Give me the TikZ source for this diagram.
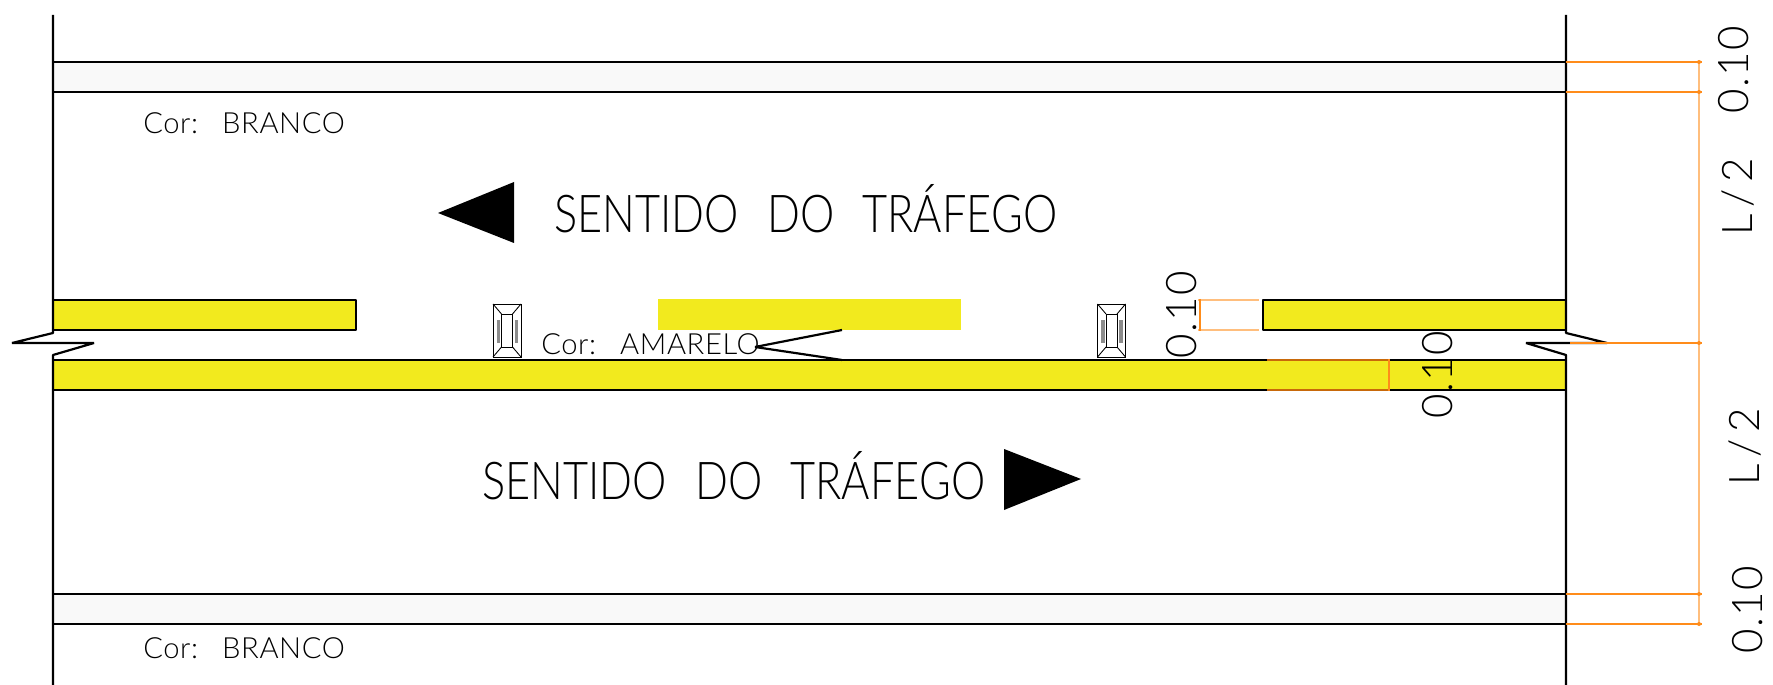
\documentclass[tikz,border=0pt]{standalone}
\usepackage{fontspec}
\newfontfamily\tagfont{Lato}[UprightFont=* Light,WordSpace=2.5,LetterSpace=2]
\newfontfamily\bigfont{Lato}[UprightFont=* Light,FakeStretch=0.83,WordSpace=2.4]
\newfontfamily\cotafont{Lato}[UprightFont=* Light,LetterSpace=3]
\newfontfamily\razaofont{Lato}[UprightFont=* Light,LetterSpace=16]
\usetikzlibrary{positioning}
\definecolor{faixa}{HTML}{F2EA1E}
\definecolor{bordo}{HTML}{F9F9F9}
\definecolor{cota}{HTML}{FF8C1A}
\definecolor{cotaclara}{HTML}{FFBE7D}
\definecolor{cotaescura}{HTML}{C8690A}
\tikzset{
  line/.style={black, line width=1.25pt, line join=bevel},
  thinline/.style={black, line width=0.5pt},
  ext/.style={cota, line width=0.8pt},
  dim/.style={cotaclara, line width=0.8pt},
  tag/.style={inner sep=0pt, font=\tagfont\fontsize{16.6}{17}\selectfont, anchor=base west},
  big/.style={inner sep=0pt, font=\bigfont\fontsize{29.7}{30}\selectfont, anchor=base west},
  measure/.style={inner sep=0pt, font=\cotafont\fontsize{24}{24}\selectfont, rotate=90, anchor=base},
  ratio/.style={measure, font=\razaofont\fontsize{24}{24}\selectfont},
  tacha/.pic={
    \draw[thinline] (-14,-26.5) rectangle (14,26.5);
    \draw[thinline] (-5.5,-16.5) rectangle (5.5,16.5);
    \draw[thinline] (-14,-26.5) -- (-5.5,-16.5);
    \draw[thinline] (14,-26.5) -- (5.5,-16.5);
    \draw[thinline] (-14,26.5) -- (-5.5,16.5);
    \draw[thinline] (14,26.5) -- (5.5,16.5);
    \filldraw[black!45, line width=0.4pt] (-10,-10.5) rectangle (-7.5,11.5);
    \filldraw[black!45, line width=0.4pt] (8,-10.5) rectangle (10.5,11.5);
  }
}
\begin{document}
\begin{tikzpicture}[x=0.02cm,y=-0.02cm]
\useasboundingbox (0,0) rectangle (1773,685);

\coordinate (LT) at (53,15);
\coordinate (RT) at (1566,15);
\coordinate (LB) at (53,685);
\coordinate (RB) at (1566,685);
\coordinate (LBa) at (53,333);
\coordinate (LBb) at (12,343);
\coordinate (LBc) at (94,343);
\coordinate (LBd) at (53,355);
\coordinate (RBa) at (1566,333);
\coordinate (RBb) at (1607,343);
\coordinate (RBc) at (1526,343);
\coordinate (RBd) at (1566,355);

% faixas
\filldraw[line, fill=bordo] (53,62) rectangle (1566,92);
\filldraw[line, fill=bordo] (53,594) rectangle (1566,624);
\filldraw[line, fill=faixa] (53,300) rectangle (356,330);
\filldraw[line, fill=faixa] (1263,300) rectangle (1566,330);
\filldraw[line, fill=faixa] (53,360) rectangle (1566,390);
\fill[faixa] (658,299) rectangle (961,330);

% bordas
\draw[line] (LT) -- (LBa) -- (LBb) -- (LBc) -- (LBd) -- (LB);
\draw[line] (RT) -- (RBa) -- (RBb) -- (RBc) -- (RBd) -- (RB);

% tachas
\pic at (507,330.5) {tacha};
\pic at (1111.5,330.5) {tacha};

% textos
\node[tag] (corA) at (143,134) {Cor: BRANCO};
\node[tag] (corB) at (143,658) {Cor: BRANCO};
\node[tag] (corC) at (541,355) {Cor: AMARELO};
\node[big] (sentA) at (554,233) {SENTIDO DO TRÁFEGO};
\node[big] (sentB) at (482,499) {SENTIDO DO TRÁFEGO};

\coordinate (AmA) at (842,330);
\coordinate (AmB) at (842,360);
\draw[line] (AmA) -- (755,347) -- (AmB);

% setas
\fill[black] (438,213) -- (514,182) -- (514,243) -- cycle;
\fill[black] (1004,449) -- (1004,510) -- (1081,479) -- cycle;

% cotas
\draw[dim] (1699,62) -- (1699,624);
\draw[ext] (1566,62) -- (1702,62);
\draw[ext] (1566,92) -- (1702,92);
\draw[ext] (1570,343) -- (1702,343);
\draw[ext] (1566,594) -- (1702,594);
\draw[ext] (1566,624) -- (1702,624);
\draw[dim] (1198,300) -- (1259,300);
\draw[dim] (1198,330) -- (1259,330);
\draw[ext] (1200,299) -- (1200,331);
\draw[cotaescura, line width=0.8pt] (1267,360) -- (1390,360);
\draw[cotaescura, line width=0.8pt] (1267,390) -- (1390,390);
\draw[ext] (1389,359) -- (1389,391);
\foreach \y in {62,92,343,594,624}
  \fill[cota] (1699,\y) circle [radius=2];

\node[measure] (cotaA) at (1748,70) {0.10};
\node[measure] (cotaB) at (1762,610) {0.10};
\node[measure] (cotaC) at (1196,315) {0.10};
\node[measure] (cotaD) at (1452,375) {0.10};
\node[ratio] (cotaE) at (1752,197) {L/2};
\node[ratio] (cotaF) at (1759,447) {L/2};
\end{tikzpicture}
\end{document}
